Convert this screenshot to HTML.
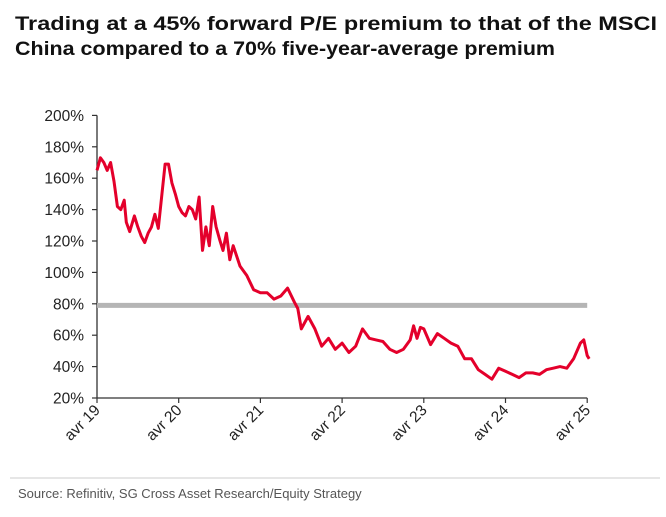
<!DOCTYPE html>
<html><head><meta charset="utf-8"><style>
html,body{margin:0;padding:0;background:#fff;}
svg{display:block;font-family:"Liberation Sans",sans-serif;}
</style></head><body>
<svg id="chart" width="666" height="517">
<text x="15" y="30" font-size="19" font-weight="bold" fill="#111" textLength="642" lengthAdjust="spacingAndGlyphs">Trading at a 45% forward P/E premium to that of the MSCI</text>
<text x="15" y="55" font-size="19" font-weight="bold" fill="#111" textLength="540" lengthAdjust="spacingAndGlyphs">China compared to a 70% five-year-average premium</text>
<g id="plot"></g>
<line x1="10" y1="478" x2="660" y2="478" stroke="#ccc" stroke-width="1"/>
<text x="18" y="498" font-size="13" fill="#555">Source: Refinitiv, SG Cross Asset Research/Equity Strategy</text>
</svg>
<script>
// months since Apr 2019
const months=[0,0.5,1,1.5,2,2.5,3,3.5,4,4.3,4.8,5.5,6,6.5,7,7.5,8,8.5,9,10,10.5,11,11.5,12,12.5,13,13.5,14,14.5,15,15.5,16,16.5,17,17.5,18,18.5,19,19.5,20,21,22,23,24,25,26,27,28,29,29.5,30,31,32,33,34,35,36,37,38,39,40,41,42,43,44,45,46,46.5,47,47.5,48,49,50,51,52,53,54,55,56,57,58,59,60,61,62,63,64,65,66,67,68,69,70,71,71.5,72,72.3];
const premium=[165,173,170,165,170,158,142,140,146,132,126,136,129,123,119,125,129,137,128,169,169,157,150,142,138,136,142,140,134,148,114,129,117,142,129,121,114,125,108,117,104,98,89,87,87,83,85,90,81,77,64,72,64,53,58,51,55,49,53,64,58,57,56,51,49,51,57,66,58,65,64,54,61,58,55,53,45,45,38,35,32,39,37,35,33,36,36,35,38,39,40,39,45,55,57,47,45];
const avgPremium=79;
const yTicks=[20,40,60,80,100,120,140,160,180,200];
const xTicks=["avr 19","avr 20","avr 21","avr 22","avr 23","avr 24","avr 25"];
const X0=97,YEARPX=81.7,Y20=398,PXPER=31.4/20;
const xs=m=>X0+m/12*YEARPX;
const ys=v=>Y20-(v-20)*PXPER;
const g=document.getElementById('plot');
const NS='http://www.w3.org/2000/svg';
function mk(t,a){const e=document.createElementNS(NS,t);for(const k in a)e.setAttribute(k,a[k]);g.appendChild(e);return e;}
let e=mk('line',{x1:X0,y1:ys(200),x2:X0,y2:Y20,stroke:'#333','stroke-width':1.3});


e=mk('line',{x1:X0,y1:Y20,x2:xs(72),y2:Y20,stroke:'#333','stroke-width':1.3});


yTicks.forEach(v=>{
 let t=mk('line',{x1:X0-5,y1:ys(v),x2:X0,y2:ys(v),stroke:'#333','stroke-width':1.2});
 
 
 let l=mk('text',{x:X0-13,y:ys(v)+5.5,'font-size':15.5,'text-anchor':'end',fill:'#222'});
 l.textContent=v+'%';
 
 
});
xTicks.forEach((s,i)=>{
 const x=xs(i*12);
 let t=mk('line',{x1:x,y1:Y20,x2:x,y2:Y20+5,stroke:'#333','stroke-width':1.2});
 
 
 let l=mk('text',{x:x+4,y:Y20+13,'font-size':15.5,'text-anchor':'end',fill:'#222',transform:`rotate(-45 ${x+4} ${Y20+13})`});
 l.textContent=s;
 
 
});
e=mk('line',{x1:X0,y1:ys(avgPremium),x2:xs(72),y2:ys(avgPremium),stroke:'#b5b5b5','stroke-width':5});


e=mk('polyline',{points:months.map((m,i)=>xs(m).toFixed(1)+','+ys(premium[i]).toFixed(1)).join(' '),fill:'none',stroke:'#e4002b','stroke-width':3,'stroke-linejoin':'round'});


</script>
</body></html>
